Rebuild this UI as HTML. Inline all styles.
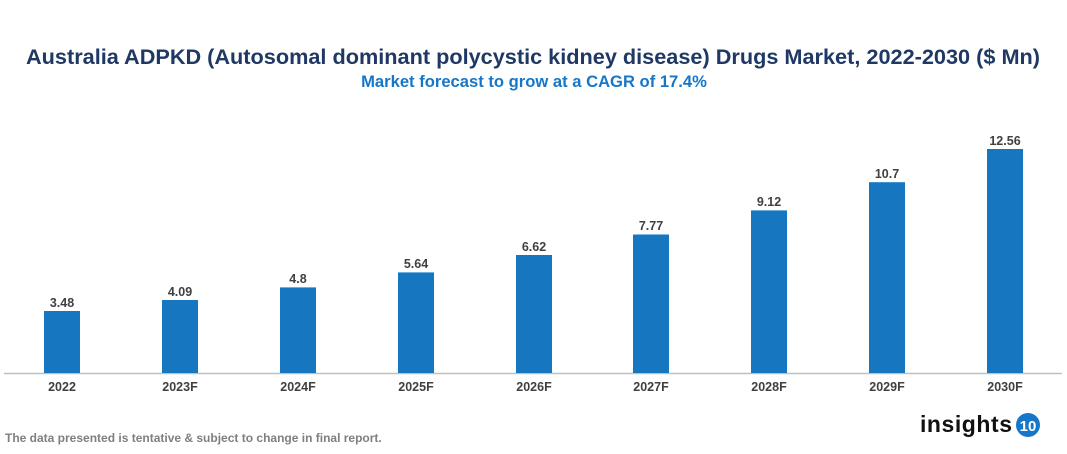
<!DOCTYPE html>
<html><head><meta charset="utf-8"><style>
html,body{margin:0;padding:0;background:#fff;}
svg{display:block;font-family:"Liberation Sans",Arial,sans-serif;}
</style></head><body>
<svg width="1067" height="454" viewBox="0 0 1067 454" xmlns="http://www.w3.org/2000/svg">
<text x="533" y="64" text-anchor="middle" font-size="21.7" font-weight="bold" fill="#1f3864">Australia ADPKD (Autosomal dominant polycystic kidney disease) Drugs Market, 2022-2030 ($ Mn)</text>
<text x="534" y="87" text-anchor="middle" font-size="16.6" font-weight="bold" fill="#1677c8">Market forecast to grow at a CAGR of 17.4%</text>
<line x1="4" y1="373.5" x2="1062" y2="373.5" stroke="#bfbfbf" stroke-width="1.5"/>
<g fill="#1677c0">
<rect x="44" y="311" width="36" height="62"/>
<rect x="162" y="300" width="36" height="73"/>
<rect x="280" y="287.4" width="36" height="85.6"/>
<rect x="398" y="272.4" width="36" height="100.6"/>
<rect x="516" y="255" width="36" height="118"/>
<rect x="633" y="234.5" width="36" height="138.5"/>
<rect x="751" y="210.4" width="36" height="162.6"/>
<rect x="869" y="182.2" width="36" height="190.8"/>
<rect x="987" y="149" width="36" height="224"/>
</g>
<g font-size="12.5" font-weight="bold" fill="#404040" text-anchor="middle">
<text x="62" y="307">3.48</text>
<text x="180" y="296">4.09</text>
<text x="298" y="283">4.8</text>
<text x="416" y="268">5.64</text>
<text x="534" y="251">6.62</text>
<text x="651" y="230">7.77</text>
<text x="769" y="206">9.12</text>
<text x="887" y="178">10.7</text>
<text x="1005" y="145">12.56</text>
</g>
<g font-size="12.5" font-weight="bold" fill="#404040" text-anchor="middle">
<text x="62" y="391">2022</text>
<text x="180" y="391">2023F</text>
<text x="298" y="391">2024F</text>
<text x="416" y="391">2025F</text>
<text x="534" y="391">2026F</text>
<text x="651" y="391">2027F</text>
<text x="769" y="391">2028F</text>
<text x="887" y="391">2029F</text>
<text x="1005" y="391">2030F</text>
</g>
<text x="5" y="442" font-size="12" font-weight="bold" fill="#7f7f7f">The data presented is tentative &amp; subject to change in final report.</text>
<text x="920" y="432" font-size="23" font-weight="bold" fill="#111" textLength="92">insights</text>
<circle cx="1028" cy="425" r="12" fill="#1677c8"/>
<text x="1028" y="431" text-anchor="middle" font-size="15" font-weight="bold" fill="#fff">10</text>
</svg>
</body></html>
